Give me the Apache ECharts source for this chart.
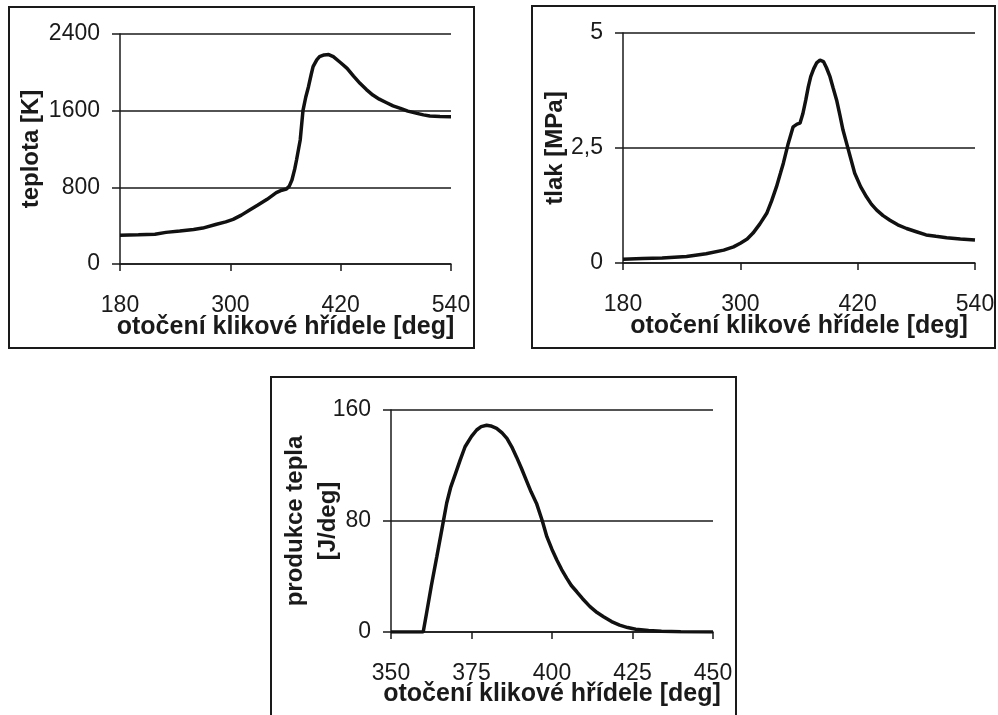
<!DOCTYPE html>
<html>
<head>
<meta charset="utf-8">
<script src="https://cdn.jsdelivr.net/npm/echarts@6/dist/echarts.min.js"></script>
<style>
html,body{margin:0;padding:0;background:#fff;}
#c{width:998px;height:715px;}
</style>
</head>
<body>
<div id="c"></div>
<script>
// ---- data ----
var xTitle = 'otočení klikové hřídele [deg]';

// Chart 1: temperature
var tempAngle = [180,200,218,230,245,260,270,285,295,303,312,321,330,340,350,356,361,364,367,370,372,376,379,382,385,388,390,394,397,402,407,412,420,427,434,441,448,455,462,470,477,485,493,503,510,517,528,540];
var tempK     = [300,305,310,330,344,360,375,415,440,466,510,563,615,675,744,770,782,810,876,990,1085,1294,1600,1740,1850,1980,2059,2130,2163,2182,2185,2163,2100,2042,1960,1885,1820,1763,1720,1683,1650,1624,1595,1572,1556,1544,1540,1537];

// Chart 2: pressure
var pressAngle = [180,200,220,245,265,283,293,300,307,313,320,327,332,337,341,344,349,354,358,361,364,367,369.5,372,375,378,381.5,385,388,391.7,395,398.5,402,405,410.5,417,423,429,434,439.5,446,453,461,470,480,490,500,511,525,540];
var pressMPa   = [0.08,0.10,0.11,0.14,0.20,0.28,0.35,0.43,0.52,0.65,0.85,1.08,1.35,1.66,1.95,2.17,2.60,2.96,3.02,3.04,3.25,3.55,3.83,4.05,4.22,4.35,4.41,4.38,4.25,4.05,3.80,3.54,3.20,2.89,2.46,1.95,1.66,1.44,1.28,1.15,1.03,0.93,0.83,0.75,0.68,0.61,0.58,0.55,0.52,0.50];

// Chart 3: heat release
var heatAngle = [350,360,361,362.5,364.2,365.8,367.3,368.5,370,371.5,373,375,376.6,378,379.7,381,382.8,384.5,386,387.5,389,390.5,392,393.5,395.2,397,398.4,400,401.5,403,404.6,406,407.7,409.5,411.8,414,416,418.5,421,423.5,426,430,434,440,450];
var heatJ     = [0,0,13,33,54,74,93,104,114,124,133.5,141,145.6,148,149,148.5,146.8,143.5,139.6,133.5,126,118,109.5,101,92.7,80,68.7,59.5,51.9,45,38.7,33.5,29,24,18.3,14,11,7.5,5,3.2,2,1.1,0.6,0.2,0];

function pairs(xs, ys){ var r=[]; for(var i=0;i<xs.length;i++) r.push([xs[i], ys[i]]); return r; }

var FONT = 'Liberation Sans, Arial, sans-serif';
var INK = '#1a1a1a';
function plain(v){ return String(v).replace('.', ','); }

function xAxis(gridIndex, min, max, interval, gap){
  return {
    type:'value', gridIndex:gridIndex, min:min, max:max, interval:interval,
    name:xTitle, nameLocation:'middle', nameGap:gap, nameMoveOverlap:false,
    nameTextStyle:{fontFamily:FONT, fontSize:25, fontWeight:'bold', color:INK},
    axisLine:{show:true, onZero:false, lineStyle:{color:INK, width:1.5}},
    axisTick:{show:true, inside:false, length:7, lineStyle:{color:INK, width:1.5}},
    axisLabel:{fontFamily:FONT, fontSize:23, color:INK, margin:30, showMinLabel:true, showMaxLabel:true, formatter:plain},
    splitLine:{show:false}
  };
}
function yAxis(gridIndex, min, max, interval, name, gap, lh){
  return {
    type:'value', gridIndex:gridIndex, min:min, max:max, interval:interval,
    name:name, nameLocation:'middle', nameGap:gap, nameMoveOverlap:false,
    nameTextStyle:{fontFamily:FONT, fontSize:24, fontWeight:'bold', color:INK, lineHeight:lh||28},
    axisLine:{show:true, lineStyle:{color:INK, width:1.5}},
    axisTick:{show:true, inside:false, length:8, lineStyle:{color:INK, width:1.5}},
    axisLabel:{fontFamily:FONT, fontSize:23, color:INK, margin:20, formatter:plain},
    splitLine:{show:true, lineStyle:{color:INK, width:1.5}}
  };
}
function line(idx, data){
  return {type:'line', xAxisIndex:idx, yAxisIndex:idx, data:data, showSymbol:false, symbol:'none',
    lineStyle:{color:'#111', width:3.5}, smooth:false, animation:false, silent:true};
}

var chart = echarts.init(document.getElementById('c'), null, {renderer:'canvas'});
chart.setOption({
  backgroundColor:'#fff',
  animation:false,
  grid:[
    {left:120, right:547, top:34, bottom:451},
    {left:623, right:23, top:33, bottom:452},
    {left:391, right:285, top:410, bottom:83}
  ],
  xAxis:[ xAxis(0,180,540,120,51), xAxis(1,180,540,120,51), xAxis(2,350,450,25,50) ],
  yAxis:[
    yAxis(0,0,2400,800,'teplota [K]',75),
    yAxis(1,0,5,2.5,'tlak [MPa]',54),
    yAxis(2,0,160,80,'produkce tepla\n[J/deg]',46,33)
  ],
  series:[ line(0, pairs(tempAngle,tempK)), line(1, pairs(pressAngle,pressMPa)), line(2, pairs(heatAngle,heatJ)) ],
  graphic:[
    {type:'rect', shape:{x:9, y:7, width:465, height:341}, style:{fill:'none', stroke:INK, lineWidth:2}, silent:true},
    {type:'rect', shape:{x:532, y:6, width:463, height:342}, style:{fill:'none', stroke:INK, lineWidth:2}, silent:true},
    {type:'rect', shape:{x:271, y:377, width:465, height:350}, style:{fill:'none', stroke:INK, lineWidth:2}, silent:true}
  ]
});
</script>
</body>
</html>
